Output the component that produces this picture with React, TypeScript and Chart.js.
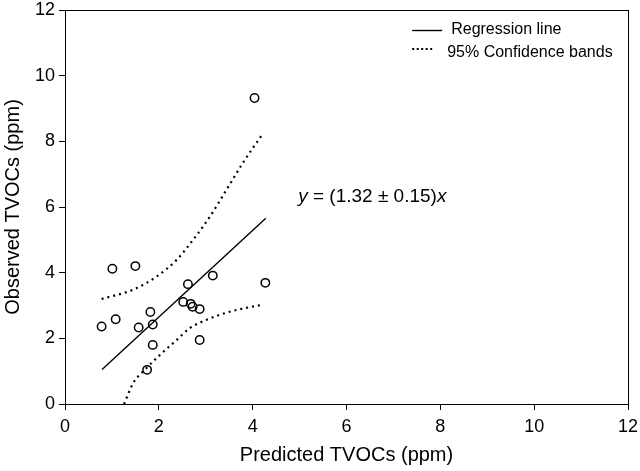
import React, { useEffect, useRef } from "react";
import { Chart, registerables } from "chart.js";

Chart.register(...registerables);

// Observed vs predicted TVOCs (ppm)
const predicted = [1.01, 1.5, 0.78, 1.08, 1.57, 1.82, 1.87, 1.87, 1.75, 2.62, 3.15, 2.52, 2.68, 2.72, 2.87, 2.87, 4.27, 4.04];
const observed = [4.12, 4.2, 2.36, 2.58, 2.33, 2.8, 2.42, 1.8, 1.04, 3.65, 3.91, 3.11, 3.05, 2.96, 2.89, 1.95, 3.69, 9.32];

// Regression line end points
const regX = [0.79, 4.28];
const regY = [1.05, 5.66];

// 95% confidence bands
const upperX = [0.78, 1.45, 1.95, 2.38, 2.73, 3.09, 3.44, 3.79, 4.2];
const upperY = [3.2, 3.48, 3.88, 4.39, 5.0, 5.71, 6.52, 7.34, 8.2];
const lowerX = [1.26, 1.45, 1.7, 2.02, 2.38, 2.66, 3.01, 3.51, 4.19];
const lowerY = [0.0, 0.63, 1.04, 1.49, 1.95, 2.31, 2.56, 2.81, 3.02];

const axisTicks = [0, 2, 4, 6, 8, 10, 12];
const xTitle = "Predicted TVOCs (ppm)";
const yTitle = "Observed TVOCs (ppm)";
const legendLabels = ["Regression line", "95% Confidence bands"];
const slope = "1.32";
const slopeErr = "0.15";

const FONT = "'Liberation Sans', Arial, sans-serif";

const pts = (xs: number[], ys: number[]) => xs.map((x, i) => ({ x, y: ys[i] }));

const framePlugin = {
  id: "frame",
  afterDraw(chart: any) {
    const { ctx, chartArea } = chart;
    const { left, top, right, bottom } = chartArea;
    ctx.save();
    ctx.strokeStyle = "#000";
    ctx.lineWidth = 1;
    ctx.strokeRect(Math.round(left) + 0.5, Math.round(top) + 0.5, Math.round(right - left), Math.round(bottom - top));
    ctx.restore();
  },
};

const annotPlugin = {
  id: "annot",
  afterDraw(chart: any) {
    const { ctx } = chart;
    const xs = chart.scales.x;
    const ys = chart.scales.y;
    ctx.save();
    // legend
    const lx0 = xs.getPixelForValue(7.4);
    ctx.strokeStyle = "#000";
    ctx.lineWidth = 1.4;
    ctx.beginPath();
    ctx.moveTo(lx0, 30.5);
    ctx.lineTo(lx0 + 30, 30.5);
    ctx.stroke();
    ctx.lineWidth = 2;
    ctx.setLineDash([2, 2.5]);
    ctx.beginPath();
    ctx.moveTo(lx0, 49);
    ctx.lineTo(lx0 + 22, 49);
    ctx.stroke();
    ctx.setLineDash([]);
    ctx.fillStyle = "#000";
    ctx.font = `16px ${FONT}`;
    ctx.textBaseline = "middle";
    ctx.textAlign = "left";
    ctx.fillText(legendLabels[0], lx0 + 39, 30);
    ctx.fillText(legendLabels[1], lx0 + 35, 53);

    // equation
    let ex = xs.getPixelForValue(4.97);
    const ey = ys.getPixelForValue(6.3);
    const parts: [string, boolean][] = [
      ["y", true],
      [" = (" + slope + " \u00b1 " + slopeErr + ")", false],
      ["x", true],
    ];
    for (const [t, it] of parts) {
      ctx.font = `${it ? "italic " : ""}19px ${FONT}`;
      ctx.fillText(t, ex, ey);
      ex += ctx.measureText(t).width;
    }
    ctx.restore();
  },
};

export default function App() {
  const ref = useRef<HTMLCanvasElement>(null);
  useEffect(() => {
    document.body.style.margin = "0";
    const canvas = ref.current!;
    const chart = new Chart(canvas, {
      type: "scatter",
      data: {
        datasets: [
          {
            label: "data",
            data: pts(predicted, observed),
            pointStyle: "circle",
            pointRadius: 4.2,
            pointBorderWidth: 1.5,
            borderColor: "#000",
            backgroundColor: "rgba(0,0,0,0)",
            showLine: false,
          },
          {
            label: legendLabels[0],
            data: pts(regX, regY),
            showLine: true,
            pointRadius: 0,
            borderColor: "#000",
            borderWidth: 1.4,
          },
          {
            label: "upper",
            data: pts(upperX, upperY),
            showLine: true,
            pointRadius: 0,
            borderColor: "#000",
            borderWidth: 2.2,
            borderDash: [2, 4],
            cubicInterpolationMode: "monotone",
          },
          {
            label: "lower",
            data: pts(lowerX, lowerY),
            showLine: true,
            pointRadius: 0,
            borderColor: "#000",
            borderWidth: 2.2,
            borderDash: [2, 4],
            cubicInterpolationMode: "monotone",
          },
        ],
      },
      options: {
        animation: false,
        responsive: false,
        devicePixelRatio: 1,
        layout: { padding: { top: 10, right: 12, left: 0, bottom: 0 } },
        plugins: {
          legend: { display: false },
          tooltip: { enabled: false },
        },
        scales: {
          x: {
            type: "linear",
            min: 0,
            max: 12,
            afterBuildTicks: (s: any) => {
              s.ticks = axisTicks.map((v) => ({ value: v }));
            },
            afterFit: (s: any) => {
              s.height = 67;
              s.paddingLeft = 0;
              s.paddingRight = 0;
            },
            ticks: { color: "#000", font: { size: 18, family: FONT }, padding: 6, maxRotation: 0 },
            grid: { drawOnChartArea: false, drawTicks: true, tickLength: 6, color: "#000" },
            border: { color: "#000", width: 1 },
            title: {
              display: true,
              text: xTitle,
              color: "#000",
              font: { size: 20, family: FONT },
              padding: { top: 0, bottom: 4 },
            },
          },
          y: {
            type: "linear",
            min: 0,
            max: 12,
            afterBuildTicks: (s: any) => {
              s.ticks = axisTicks.map((v) => ({ value: v }));
            },
            afterFit: (s: any) => {
              s.width = 65;
              s.paddingTop = 0;
              s.paddingBottom = 0;
            },
            ticks: { color: "#000", font: { size: 18, family: FONT }, padding: 4 },
            grid: { drawOnChartArea: false, drawTicks: true, tickLength: 6, color: "#000" },
            border: { color: "#000", width: 1 },
            title: {
              display: true,
              text: yTitle,
              color: "#000",
              font: { size: 20, family: FONT },
              padding: { top: 1, bottom: 0 },
            },
          },
        },
      },
      plugins: [framePlugin, annotPlugin],
    } as any);
    return () => chart.destroy();
  }, []);
  return (
    <div style={{ width: 640, height: 471, background: "#fff" }}>
      <canvas ref={ref} width={640} height={471} />
    </div>
  );
}
